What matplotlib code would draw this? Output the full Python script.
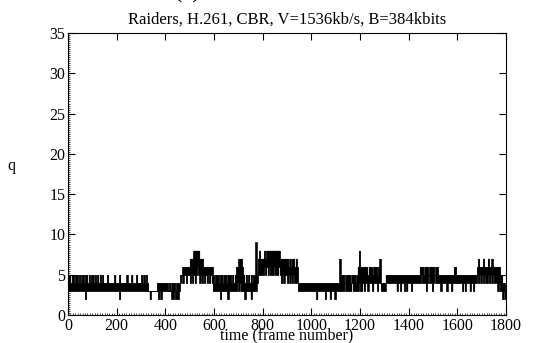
import numpy as np
import matplotlib
matplotlib.use("Agg")
import matplotlib.pyplot as plt
from matplotlib.ticker import MultipleLocator

# ==========================
# Data: max / min quantizer q in each 5-frame bin
# ==========================

step = 5

# (frames, q_max digits, q_min digits)
q_segments = [
    ("0-125", "5545545545455455454554545", "3333333333333323333333333"),
    ("125-330", "4545444544" "4445444544" "4445444544" "4544454545" "4",
                "3333333333" "3333333233" "3333333333" "3333333333" "3"),
    ("330-365", "3333333", "3233333"),
    ("365-405", "44444444", "32323333"),
    ("405-425", "4343", "3333"),
    ("425-460", "4443444", "2232223"),
    ("460-515", "55666666777", "45455455454"),
    ("515-540", "88888", "54565"),
    ("540-565", "77766", "45454"),
    ("565-595", "666666", "545454"),
    ("595-690", "5455545545545554545", "3333332333332333333"),
    ("690-720", "667776", "343433"),
    ("720-770", "5454545455", "3233332333"),
    ("770-780", "95", "34"),
    ("780-820", "78777878", "55555656"),
    ("820-870", "8888888888", "5655565556"),
    ("870-945", "777777767677676", "545455454545444"),
    ("945-1115", "4444444444" "4444444444" "4444444444" "4444",
                 "3333333333" "3333323333" "3323332333" "2333"),
    ("1115-1120", "7", "3"),
    ("1120-1190", "55545555455545", "33343333343333"),
    ("1190-1220", "686666", "343343"),
    ("1220-1285", "6656665666567", "4434443444344"),
    ("1285-1305", "4444", "3333"),
    ("1305-1445", "5555555555" "5555555555" "55555555",
                  "4444444443" "4434434344" "43444444"),
    ("1445-1520", "666566656666566", "454443454434544"),
    ("1520-1585", "5555555555555", "4434444344434"),
    ("1585-1595", "66", "44"),
    ("1595-1680", "55555555555555555", "44444343444344344"),
    ("1680-1750", "67666766676676", "54545454454545"),
    ("1750-1780", "666665", "444343"),
    ("1780-1800", "5443", "3232"),
]

q_max = np.array([int(c) for _, hi, _ in q_segments for c in hi], dtype=float)
q_min = np.array([int(c) for _, _, lo in q_segments for c in lo], dtype=float)
frames = np.arange(len(q_max) + 1) * step
q_max = np.append(q_max, q_max[-1])
q_min = np.append(q_min, q_min[-1])

title = "Raiders, H.261, CBR, V=1536kb/s, B=384kbits"
xticks = [0, 200, 400, 600, 800, 1000, 1200, 1400, 1600, 1800]
yticks = [0, 5, 10, 15, 20, 25, 30, 35]

# ==========================
# Graph
# ==========================

plt.rcParams["font.family"] = ["Liberation Serif", "DejaVu Serif"]
plt.rcParams["font.size"] = 11
plt.rcParams["path.simplify"] = False

fig = plt.figure(figsize=(5.37, 3.43), dpi=100)
ax = fig.add_axes([68 / 537, 1 - 315 / 343, (506 - 68) / 537, (315 - 33) / 343])

ax.fill_between(frames, q_min, q_max, step="post", facecolor="black",
                edgecolor="black", linewidth=0.3)
ax.step(frames, q_max, where="post", color="black", linewidth=0.5)
ax.step(frames, q_min, where="post", color="black", linewidth=0.5)

ax.set_xlim(0, 1800)
ax.set_ylim(0, 35)
ax.set_xticks(xticks)
ax.set_yticks(yticks)
ax.xaxis.set_minor_locator(MultipleLocator(10))
ax.yaxis.set_minor_locator(MultipleLocator(0.25))

ax.tick_params(which="major", direction="in", length=5, width=0.8,
               top=True, right=True, pad=2, labelsize=11.5)
ax.tick_params(which="minor", direction="in", length=1.5, width=0.5,
               top=False, right=False)
for side in ax.spines.values():
    side.set_linewidth(0.8)

ax.set_title(title, fontsize=12, pad=7)
ax.set_xlabel("time (frame number)", fontsize=11.5, labelpad=-4.5)
ax.set_ylabel("q", fontsize=11.5, rotation=0)
ax.yaxis.set_label_coords(-0.13, 0.5)

fig.text(188 / 537, 1 + 2 / 343, "(a)", ha="center", va="baseline", fontsize=18)

fig.savefig("out.png", dpi=100)
